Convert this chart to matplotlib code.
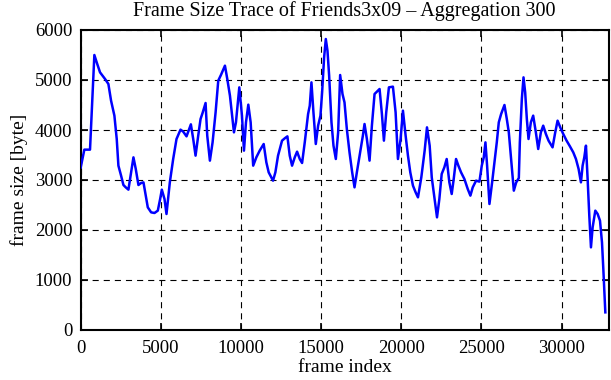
#frame size trace, aggregation 300

import matplotlib
matplotlib.use('Agg')
import matplotlib.pyplot as plt

frame_index=[0,227,581,852,998,1206,1519,1727,1894,2102,2248,2352,2519,2665,2810,2977,
    3144,3290,3435,3602,3769,3915,4060,4185,4394,4602,4810,4956,5060,5227,5352,5560,
    5769,5977,6227,6394,6602,6873,7019,7165,7331,7477,7602,7790,7894,8060,8227,8415,
    8581,8748,8998,9144,9310,9560,9685,9894,10060,10185,10310,10456,10602,10760,10956,
    11165,11415,11581,11727,11998,12144,12310,12560,12727,12894,13040,13185,13352,13498,
    13665,13810,13977,14185,14290,14394,14519,14665,14810,14956,15060,15185,15290,15394,
    15498,15644,15769,15915,16060,16185,16331,16456,16602,16769,16935,17081,17227,17435,
    17602,17706,17852,18019,18165,18331,18477,18644,18790,18915,19060,19227,19477,19644,
    19790,19956,20102,20269,20415,20560,20727,20894,21040,21248,21456,21602,21769,21900,
    22102,22227,22373,22519,22685,22831,22998,23144,23269,23415,23560,23727,23935,24144,
    24310,24456,24665,24873,25019,25144,25248,25352,25498,25665,25810,25956,26081,26227,
    26435,26581,26706,26852,27019,27165,27331,27394,27519,27623,27727,27831,27935,28081,
    28227,28394,28540,28706,28852,29019,29185,29435,29602,29748,29915,30102,30310,30519,
    30727,30894,31060,31206,31310,31415,31519,31623,31727,31831,31935,32102,32248,32394,
    32519,32602,32685,32727]
frame_size=[3250,3607,3607,5500,5353,5153,5020,4920,4587,4287,3820,3287,3087,2900,2853,2807,
    3153,3453,3220,2900,2940,2953,2687,2453,2353,2340,2387,2620,2807,2620,2320,2953,
    3420,3820,4007,3967,3873,4113,3820,3487,3887,4220,4340,4540,3887,3387,3753,4353,
    4987,5100,5287,5020,4687,3953,4153,4853,4287,3587,4153,4507,4153,3287,3453,
    3587,3720,3353,3153,2987,3153,3487,3787,3833,3873,3487,3287,3453,3567,
    3420,3340,3753,4320,4487,4953,4353,3720,4087,4287,4753,5453,5820,5587,
    5087,4153,3687,3420,3953,5100,4720,4553,4020,3553,3153,2853,3153,3553,
    3887,4120,3820,3387,4087,4720,4767,4820,4320,3787,4353,4853,4867,4353,
    3420,3820,4387,3887,3487,3153,2887,2753,2653,3053,3587,4053,3687,3050,
    2553,2253,2620,3120,3253,3420,2953,2720,3020,3420,3287,3153,3020,2820,
    2687,2853,2987,2967,3287,3453,3753,3287,2520,2953,3353,3753,4153,4320,
    4500,4220,3953,3420,2787,2950,3040,3753,4620,5053,4753,4220,3820,4153,
    4287,3953,3620,3953,4087,3920,3787,3653,3953,4187,4053,3920,3787,3673,
    3553,3420,3220,2953,3287,3453,3687,3020,2287,1653,2053,2387,2320,2187,
    1753,1220,620,353]

x_ticks=[0,5000,10000,15000,20000,25000,30000]
y_ticks=[0,1000,2000,3000,4000,5000,6000]

plt.rcParams['font.family']=['Liberation Serif','DejaVu Serif']

fig=plt.figure(figsize=(6.11,3.80),dpi=100)
ax=fig.add_axes([80.7/611,50/380,(608.5-80.7)/611,300/380])

ax.plot(frame_index,frame_size,color=(0,0,1),linewidth=1.8,zorder=3)

ax.set_xlim(0,32925)
ax.set_ylim(0,6000)
ax.set_xticks(x_ticks)
ax.set_yticks(y_ticks)
ax.grid(True,color='black',linestyle=(0,(5.5,4.5)),linewidth=0.8)
ax.tick_params(direction='in',length=5,width=1.2,top=True,right=True,labelsize=13.5)
ax.tick_params(axis='x',pad=7)
ax.tick_params(axis='y',pad=6)
for s in ax.spines.values():
    s.set_linewidth(1.5)

ax.set_title('Frame Size Trace of Friends3x09 – Aggregation 300',fontsize=14.5,pad=10)
ax.set_xlabel('frame index',fontsize=14,labelpad=2)
ax.set_ylabel('frame size [byte]',fontsize=14,labelpad=5)

plt.savefig('out.png',dpi=100)
